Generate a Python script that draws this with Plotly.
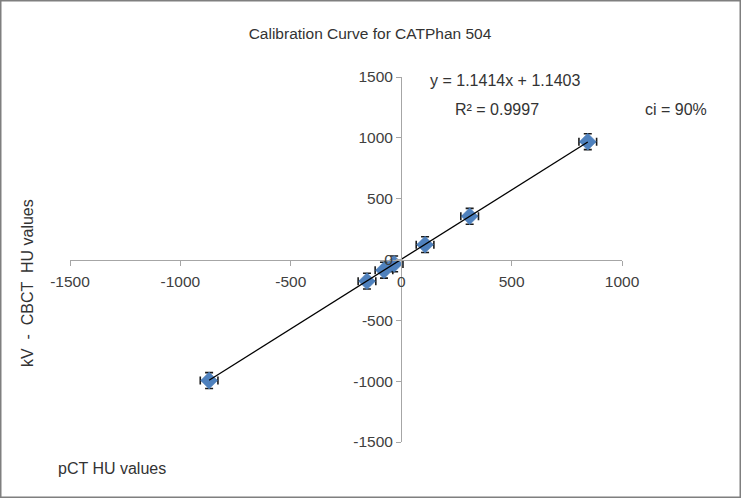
import plotly.graph_objects as go

# Data
pct_hu = [-870, -155, -78, -32, 108, 310, 845]
cbct_hu = [-995, -178, -88, -36, 122, 355, 968]
err_x = [40, 40, 40, 40, 40, 40, 40]
err_y = [65, 65, 65, 65, 65, 65, 65]
slope = 1.1414
intercept = 1.1403
r2 = 0.9997
x_ticks = [-1500, -1000, -500, 0, 500, 1000]
y_ticks = [-1500, -1000, -500, 0, 500, 1000, 1500]

W, H = 741, 498
ML, MR, MT, MB = 70, 119, 77, 56
PW, PH = W - ML - MR, H - MT - MB

XR = [-1500, 1000]
YR = [-1500, 1500]

fig = go.Figure()
fig.add_trace(go.Scatter(
    x=pct_hu, y=cbct_hu, mode="markers",
    marker=dict(symbol="diamond", size=13, color="#4F81BD",
                line=dict(color="#4A7EBB", width=0.5)),
    error_x=dict(type="data", array=err_x, visible=True, color="#1a1a1a", thickness=1.6, width=4),
    error_y=dict(type="data", array=err_y, visible=True, color="#1a1a1a", thickness=1.6, width=4),
    showlegend=False, hoverinfo="x+y"))

x_line = [min(pct_hu), max(pct_hu)]
y_line = [slope * v + intercept for v in x_line]
fig.add_trace(go.Scatter(x=x_line, y=y_line, mode="lines",
                         line=dict(color="#000000", width=1.3),
                         showlegend=False, hoverinfo="skip"))

FONT = "Liberation Sans, Arial, sans-serif"
tickfont = dict(family=FONT, size=15.5, color="#404040")
axcol = "#a6a6a6"

fig.update_layout(
    width=W, height=H,
    margin=dict(l=ML, r=MR, t=MT, b=MB),
    paper_bgcolor="white", plot_bgcolor="white",
    title=dict(text="Calibration Curve for CATPhan 504", x=370 / W, xanchor="center",
               y=1 - 34 / H, yanchor="middle",
               font=dict(family=FONT, size=15.5, color="#333333")),
    xaxis=dict(range=XR, tickvals=x_ticks, ticktext=[str(v) for v in x_ticks],
               showgrid=False, zeroline=False,
               showline=True, linecolor=axcol, linewidth=1.3,
               ticks="outside", ticklen=5, tickcolor=axcol, tickwidth=1.3,
               tickfont=tickfont, anchor="free", ticklabelstandoff=3,
               position=(0 - YR[0]) / (YR[1] - YR[0])),
    yaxis=dict(range=YR, tickvals=y_ticks, ticktext=[str(v) for v in y_ticks],
               showgrid=False, zeroline=False,
               showline=True, linecolor=axcol, linewidth=1.3,
               ticks="outside", ticklen=5, tickcolor=axcol, tickwidth=1.3,
               tickfont=tickfont, anchor="free",
               position=(0 - XR[0]) / (XR[1] - XR[0])),
)

def px_to_paper_x(px):
    return (px - ML) / PW

def px_to_paper_y(py):
    return 1 - (py - MT) / PH

afont = dict(family=FONT, size=16, color="#333333")

def note(text, px, py, angle=0):
    fig.add_annotation(text=text, xref="paper", yref="paper",
                       x=px_to_paper_x(px), y=px_to_paper_y(py),
                       xanchor="center", yanchor="middle",
                       showarrow=False, font=afont, textangle=angle)

note(f"y = {slope}x + {intercept}", 505, 81)
note(f"R² = {r2}", 497, 110)
note("ci = 90%", 676, 110)
note("pCT HU values", 112, 468)
note("kV  -  CBCT  HU values", 27, 283, -90)

# figure border
fig.add_shape(type="rect", xref="paper", yref="paper",
              x0=px_to_paper_x(0.75), x1=px_to_paper_x(W - 0.75),
              y0=px_to_paper_y(H - 0.75), y1=px_to_paper_y(0.75),
              line=dict(color="#7f7f7f", width=1.5), fillcolor="rgba(0,0,0,0)", layer="above")

fig.write_html("out.html",
               config={"displayModeBar": False},
               post_script="document.body.style.margin='0';document.body.style.overflow='hidden';")
